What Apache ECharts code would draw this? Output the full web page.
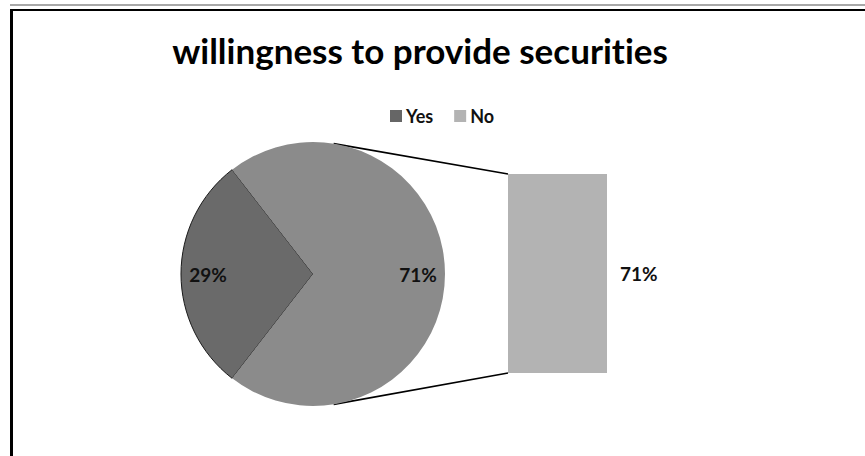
<!DOCTYPE html>
<html>
<head>
<meta charset="utf-8">
<script src="https://cdn.jsdelivr.net/npm/echarts@6/dist/echarts.min.js"></script>
<style>
  html, body { margin: 0; padding: 0; background: #ffffff; }
  #chart { width: 865px; height: 456px; }
  #chart text { font-variant-ligatures: none; }
</style>
</head>
<body>
<div id="chart"></div>
<script>
// Chart content
const titleText = 'willingness to provide securities';
const categories = ['Yes', 'No'];
const shares = [29, 71];          // main pie, percent
const breakoutCategories = ['No'];
const breakoutValues = [71];      // bar of the split-out part, percent

// Styling / layout
const FONT = 'Lato';
const sliceColors = ['#6a6a6a', '#8b8b8b'];
const barColor = '#b3b3b3';
const legendColors = ['#666666', '#b3b3b3'];
const pieCenter = [313, 274];
const pieRadius = 132;
const connectorAngle = 81;        // degrees from the horizontal where connector lines leave the pie
const gridBox = { left: 508, top: 174, width: 99, height: 199 };

const total = shares.reduce((a, b) => a + b, 0);
const firstSweep = shares[0] / total * 360;
const startAngle = 180 + firstSweep / 2;   // first slice centred on the left

const chart = echarts.init(document.getElementById('chart'), null, { renderer: 'svg' });

const valueLabel = {
  formatter: p => p.value + '%',
  fontFamily: FONT,
  fontWeight: 'bold',
  fontSize: 19,
  color: '#111111',
  padding: [6, 0, 0, 0]
};

const option = {
  backgroundColor: '#ffffff',
  animation: false,
  title: {
    text: titleText,
    left: 420,
    top: 32,
    textAlign: 'center',
    padding: 0,
    textStyle: { fontFamily: FONT, fontWeight: 'bold', fontSize: 35, color: '#000000' }
  },
  legend: {
    data: categories.map((c, i) => ({ name: c, itemStyle: { color: legendColors[i], borderWidth: 0 } })),
    left: 390,
    top: 107,
    icon: 'rect',
    itemWidth: 12,
    itemHeight: 12,
    itemGap: 21,
    padding: 0,
    textStyle: { fontFamily: FONT, fontWeight: 'bold', fontSize: 18, color: '#111111', padding: [0, 0, 0, -1] }
  },
  grid: { left: gridBox.left, top: gridBox.top, width: gridBox.width, height: gridBox.height },
  xAxis: { type: 'category', data: breakoutCategories, show: false },
  yAxis: { type: 'value', min: 0, max: breakoutValues[0], show: false },
  series: [
    {
      type: 'pie',
      center: pieCenter,
      radius: pieRadius,
      startAngle: startAngle,
      clockwise: true,
      label: { show: false },
      labelLine: { show: false },
      emphasis: { disabled: true },
      data: categories.map((c, i) => ({
        name: c,
        value: shares[i],
        itemStyle: i === 0
          ? { color: sliceColors[i], borderColor: '#1a1a1a', borderWidth: 1 }
          : { color: sliceColors[i], borderWidth: 0 }
      }))
    },
    {
      // label ring: places the percentages at ~3/4 of the radius
      type: 'pie',
      center: pieCenter,
      radius: [72, pieRadius],
      startAngle: startAngle,
      clockwise: true,
      silent: true,
      itemStyle: { color: 'rgba(0,0,0,0)' },
      label: Object.assign({ show: true, position: 'inside' }, valueLabel),
      labelLine: { show: false },
      emphasis: { disabled: true },
      data: categories.map((c, i) => ({ name: c, value: shares[i] }))
    },
    {
      type: 'bar',
      name: breakoutCategories[0],
      data: breakoutValues,
      barWidth: '100%',
      itemStyle: { color: barColor },
      label: Object.assign({ show: true, position: 'right', distance: 13 }, valueLabel),
      emphasis: { disabled: true }
    }
  ]
};

chart.setOption(option);

// Connector lines from the pie to the bar, plus the outer frame
const rad = connectorAngle * Math.PI / 180;
const px = pieCenter[0] + pieRadius * Math.cos(rad);
const pyTop = pieCenter[1] - pieRadius * Math.sin(rad);
const pyBot = pieCenter[1] + pieRadius * Math.sin(rad);
const barTopY = chart.convertToPixel({ yAxisIndex: 0 }, breakoutValues[0]);
const barBotY = chart.convertToPixel({ yAxisIndex: 0 }, 0);
const barLeftX = gridBox.left;

chart.setOption({
  graphic: [
    { type: 'line', shape: { x1: px, y1: pyTop, x2: barLeftX, y2: barTopY }, style: { stroke: '#000', lineWidth: 1.6 }, silent: true },
    { type: 'line', shape: { x1: px, y1: pyBot, x2: barLeftX, y2: barBotY }, style: { stroke: '#000', lineWidth: 1.6 }, silent: true },
    { type: 'rect', shape: { x: 10, y: 4, width: 855, height: 2 }, style: { fill: '#a8a8a8' }, silent: true },
    { type: 'rect', shape: { x: 10, y: 9, width: 855, height: 2 }, style: { fill: '#000000' }, silent: true },
    { type: 'rect', shape: { x: 10, y: 9, width: 3, height: 447 }, style: { fill: '#000000' }, silent: true }
  ]
});
</script>
</body>
</html>
